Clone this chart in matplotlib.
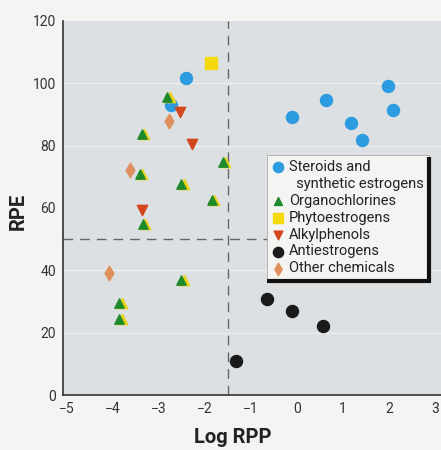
import matplotlib
matplotlib.use("Agg")
import matplotlib.pyplot as plt

plt.rcParams["font.family"] = ["Roboto", "DejaVu Sans"]

# ── data ─────────────────────────────────────────────────────────────────────
steroid_x = [-2.40, -2.73, -0.11, 0.63, 1.18, 1.40, 1.98, 2.07]
steroid_y = [101.5, 93.0, 89.2, 94.6, 87.3, 81.8, 99.0, 91.4]

organo_x = [-2.81, -3.36, -1.60, -3.40, -2.51, -1.84, -3.34, -2.51, -3.85, -3.85]
organo_y = [95.6, 83.7, 74.6, 70.8, 67.6, 62.6, 55.0, 37.0, 29.6, 24.5]

phyto_x = [-1.87]
phyto_y = [106.4]

alkyl_x = [-2.53, -2.27, -3.36]
alkyl_y = [90.8, 80.6, 59.2]

anti_x = [-0.65, -0.11, 0.56, -1.32]
anti_y = [30.9, 26.8, 22.0, 10.8]

other_x = [-2.77, -3.61, -4.07]
other_y = [88.0, 72.3, 39.2]

rpp_cut = -1.5
rpe_cut = 50

fig = plt.figure(figsize=(4.41, 4.5), dpi=100)
fig.patch.set_facecolor("#f4f4f2")
ax = fig.add_axes([0.143, 0.122, 0.857, 0.832])
ax.set_facecolor("#dde0e2")

for y in (20, 40, 80, 100):
    ax.axhline(y, color="#eceeef", linewidth=1.0, zorder=0.5)

ax.axvline(rpp_cut, color="#666666", linewidth=1.0, dashes=(7, 5), zorder=1)
ax.axhline(rpe_cut, xmax=0.56, color="#666666", linewidth=1.0, dashes=(7, 5), zorder=1)

h_ster = ax.scatter(steroid_x, steroid_y, s=75, color="#2c9be0", zorder=3)
# yellow shadow behind each green triangle
ax.scatter([x + 0.05 for x in organo_x], organo_y, s=55, marker="^",
           color="#e8d21a", zorder=3)
h_org = ax.scatter(organo_x, organo_y, s=45, marker="^", color="#1f8a2c", zorder=4)
h_phy = ax.scatter(phyto_x, phyto_y, s=80, marker="s", color="#f3d90e", zorder=3)
h_alk = ax.scatter(alkyl_x, alkyl_y, s=55, marker="v", color="#d2461c", zorder=3)
h_ant = ax.scatter(anti_x, anti_y, s=75, color="#1a1a1a", zorder=3)
h_oth = ax.scatter(other_x, other_y, s=55, marker="d", color="#e0905e", zorder=3)

ax.set_xlim(-5.07, 3.12)
ax.set_ylim(0, 120)
ax.set_xticks(range(-5, 4))
ax.set_xticklabels(["\u22125", "\u22124", "\u22123", "\u22122", "\u22121",
                    "0", "1", "2", "3"])
ax.set_yticks(range(0, 121, 20))
ax.tick_params(labelsize=10, colors="#333333", length=0, pad=5)
for side in ("top", "right"):
    ax.spines[side].set_visible(False)
for side in ("left", "bottom"):
    ax.spines[side].set_color("#333333")
    ax.spines[side].set_linewidth(1.2)

ax.set_xlabel("Log RPP", fontsize=14.5, fontweight="bold", color="#222222")
ax.set_ylabel("RPE", fontsize=14.5, fontweight="bold", color="#222222")
ax.xaxis.set_label_coords(0.45, -0.088)
ax.yaxis.set_label_coords(-0.093, 0.49)

blank = plt.Line2D([], [], linestyle="none")
handles = [h_ster, blank, h_org, h_phy, h_alk, h_ant, h_oth]
labels = ["Steroids and", "  synthetic estrogens", "Organochlorines",
          "Phytoestrogens", "Alkylphenols", "Antiestrogens", "Other chemicals"]
leg = fig.legend(handles, labels, loc="upper left", bbox_to_anchor=(0.605, 0.656),
                 fontsize=10.5, frameon=True, fancybox=False, shadow=False,
                 handletextpad=0.35, labelspacing=0.2, borderpad=0.35,
                 borderaxespad=0.0, handlelength=0.8, markerscale=0.85,
                 labelcolor="#222222")
frame = leg.get_frame()
frame.set_facecolor("#f4f4f2")
frame.set_edgecolor("#aaaaaa")
frame.set_linewidth(0.6)
frame.set_alpha(1)
leg.set_zorder(5)

# heavy black rule on the right and bottom of the legend box
fig.canvas.draw()
bb = leg.get_window_extent().transformed(fig.transFigure.inverted())
fig.add_artist(plt.Line2D([bb.x1, bb.x1, bb.x0], [bb.y1 - 0.005, bb.y0, bb.y0],
                          transform=fig.transFigure, color="#111111", linewidth=3,
                          zorder=6, solid_capstyle="butt", solid_joinstyle="miter"))

fig.savefig("out.png", dpi=100, facecolor=fig.get_facecolor())
